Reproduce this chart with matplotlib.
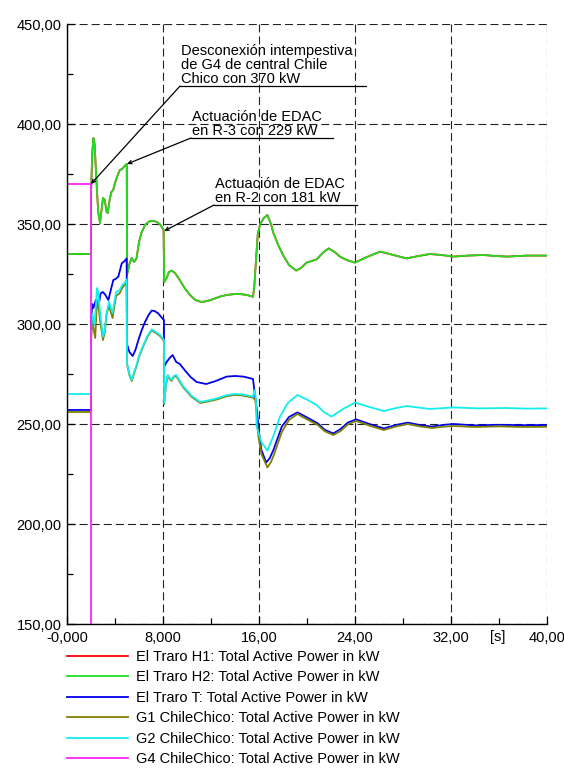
import matplotlib
matplotlib.use("Agg")
import matplotlib.pyplot as plt
from matplotlib.ticker import MultipleLocator, FixedLocator, FixedFormatter, FuncFormatter

plt.rcParams["font.family"] = ["Liberation Sans", "DejaVu Sans"]
plt.rcParams["lines.scale_dashes"] = False

# ---- simulation results: total active power (kW) versus time (s) ----
h2_t = [0.0, 2.0, 2.0, 2.1, 2.2, 2.3, 2.45, 2.6, 2.75, 2.9, 3.0, 3.15, 3.3, 3.4, 3.55,
        3.7, 3.85, 4.0, 4.2, 4.4, 4.6, 4.8, 4.98, 5.0, 5.2, 5.4, 5.6, 5.8, 6.0, 6.2,
        6.5, 6.9, 7.2, 7.5, 7.8, 8.05, 8.1, 8.3, 8.5, 8.72, 9.0, 9.4, 9.8, 10.25,
        10.7, 11.2, 11.7, 12.2, 12.8, 13.3, 14.0, 14.4, 15.0, 15.5, 15.6, 15.75,
        15.9, 16.1, 16.4, 16.7, 17.0, 17.2, 17.6, 18.0, 18.5, 19.1, 19.5, 19.97,
        20.4, 20.8, 21.3, 21.8, 22.3, 22.75, 23.3, 24.0, 25.0, 26.1, 27.2, 28.3,
        29.3, 30.25, 31.2, 32.2, 33.4, 34.7, 35.7, 36.7, 38.3, 40.0]
h2_p = [335, 335, 365, 385, 393, 390, 372, 356, 350.5, 358, 363, 362, 356, 355.5, 362,
        366, 367, 370.5, 374, 377, 377.5, 379, 380, 324.5, 330, 333, 331, 333, 341, 345.5,
        349.5, 351.5, 351.5, 351, 349.5, 347, 321, 323, 326, 326.7, 325.5, 322, 318, 314.5,
        312, 311, 311.5, 312.5, 313.8, 314.5, 315, 315, 314.5, 313.6, 318, 332,
        345, 350, 353, 354.5, 350, 345.5, 339.5, 334.5, 329.5, 326.7, 328, 330.7,
        331.5, 332.3, 335.5, 337.8, 336, 333.7, 332, 330.7, 333.5, 336.2, 334.5, 332.8,
        334, 335, 334.5, 333.7, 334.2, 334.5, 334, 333.7, 334.2, 334.2]

# both hydro units of El Traro share the same dispatch
h1_t = h2_t
h1_p = h2_p

t_t = [0.0, 2.0, 2.0, 2.1, 2.2, 2.4, 2.6, 2.8, 3.0, 3.2, 3.45, 3.65, 3.86, 4.05, 4.28,
       4.56, 4.8, 4.97, 5.0, 5.2, 5.47, 5.7, 5.95, 6.2, 6.5, 6.8, 7.06, 7.3, 7.6, 7.85,
       8.08, 8.1, 8.3, 8.55, 8.8, 9.1, 9.4, 9.8, 10.3, 10.8, 11.6, 12.4, 13.3, 14.0,
       14.7, 15.5, 15.65, 15.8, 16.0, 16.2, 16.6, 16.9, 17.2, 17.5, 17.9, 18.5, 19.2,
       20.0, 20.9, 21.5, 22.2, 22.8, 23.4, 24.1, 25.2, 26.4, 27.4, 28.4, 29.4, 30.4,
       31.3, 32.2, 34.0, 36.0, 38.0, 40.0]
t_p = [257, 257, 300, 310, 308, 312, 308, 315.3, 316, 314.5, 312, 317, 322, 322.5, 323.7,
       330.3, 331.5, 332.8, 290, 286, 284, 287, 292, 296.5, 301, 304.5, 306.7, 306.5, 305.3, 303.5,
       302, 278.7, 281, 283, 284.5, 281, 280, 277, 273.5, 271, 270, 271.5, 273.7, 274,
       273.7, 272.5, 265, 258, 246, 237, 230.7, 233, 237, 242, 248.7, 253.5, 255.8,
       253.3, 250.3, 247, 245.3, 247.5, 250.7, 252.3, 250, 247.8, 249.5, 250.7, 249.5, 248.7,
       249.5, 250, 249.3, 249.6, 249.4, 249.5]

g1_t = [0.0, 2.0, 2.0, 2.1, 2.2, 2.35, 2.5, 2.6, 2.75, 3.0, 3.15, 3.3, 3.5, 3.65, 3.8,
        3.95, 4.1, 4.4, 4.6, 4.8, 4.97, 5.0, 5.2, 5.4, 5.6, 5.8, 6.0, 6.36, 6.7, 7.06,
        7.4, 7.75, 8.08, 8.1, 8.25, 8.4, 8.55, 8.7, 8.9, 9.1, 9.4, 9.7, 10.4, 11.1,
        11.8, 12.5, 13.2, 13.9, 14.6, 15.25, 15.5, 15.7, 15.95, 16.2, 16.7, 17.0, 17.3,
        17.9, 18.5, 19.2, 20.0, 20.9, 21.5, 22.2, 22.8, 23.4, 24.1, 25.2, 26.4, 27.4,
        28.4, 29.4, 30.4, 31.3, 32.2, 34.0, 36.0, 38.0, 40.0]
g1_p = [256, 256, 290, 303, 298, 293, 312, 310, 302, 292, 296, 305, 309, 306, 303,
        309, 314, 315.5, 318, 319.5, 321, 280, 274.5, 271.5, 275.5, 279, 283.5, 289, 293.5, 296.8,
        295.5, 294, 291.5, 260, 269.5, 274, 272.5, 271.5, 273.5, 274, 271, 268.2, 263.5, 260.5,
        261.3, 262.3, 263.7, 264.5, 264.3, 263.5, 263.2, 262, 243.7, 235, 228.3, 231, 235.5,
        246, 252, 255, 252.3, 249.5, 246.3, 244.5, 246.5, 249.8, 251.5, 249.2, 247, 248.7,
        250, 248.8, 248, 248.6, 249, 248.5, 248.8, 248.5, 248.6]

g2_t = [0.0, 2.0, 2.0, 2.1, 2.2, 2.3, 2.5, 2.6, 2.75, 3.0, 3.15, 3.3, 3.5, 3.65, 3.8,
        3.95, 4.1, 4.4, 4.6, 4.8, 4.97, 5.0, 5.2, 5.4, 5.6, 5.8, 6.0, 6.36, 6.7, 7.06,
        7.4, 7.75, 8.08, 8.1, 8.25, 8.4, 8.55, 8.7, 8.9, 9.1, 9.4, 9.7, 10.4, 11.1,
        11.8, 12.5, 13.2, 13.9, 14.6, 15.25, 15.5, 15.65, 15.75, 15.8, 16.2, 16.7, 17.2,
        17.75, 18.4, 19.2, 19.9, 20.8, 21.4, 22.05, 23.0, 24.0, 25.2, 26.4, 27.3, 28.3,
        30.25, 32.2, 34.3, 36.5, 38.3, 40.0]
g2_p = [265, 265, 295, 305, 303, 300, 318, 316, 306, 293.7, 297, 305.5, 311, 308, 305.5,
        311, 316, 317, 319.5, 320.5, 322.3, 280.5, 275, 272, 276, 279.5, 284, 289.5, 294, 297.3,
        296, 294.5, 292, 260.5, 270, 274.5, 273, 272, 274, 274.5, 271.5, 268.7, 264, 261,
        261.8, 262.8, 264.2, 265, 264.8, 264, 263.7, 267, 262, 248.7, 241, 236.7, 244,
        253.7, 260.5, 264.5, 262.5, 259.5, 256, 253.7, 257.5, 260.7, 258.5, 256.5, 257.8, 259,
        257.5, 258.3, 257.8, 258, 257.7, 257.8]

g4_t = [0.0, 2.0, 2.0, 40.0]
g4_p = [370, 370, 0, 0]

labels = ["El Traro H1: Total Active Power in kW",
          "El Traro H2: Total Active Power in kW",
          "El Traro T: Total Active Power in kW",
          "G1 ChileChico: Total Active Power in kW",
          "G2 ChileChico: Total Active Power in kW",
          "G4 ChileChico: Total Active Power in kW"]
colors = ["#ff0000", "#22dd22", "#0000ee", "#808000", "#11eeee", "#ff22ff"]

x_ticks = [0, 8, 16, 24, 32, 40]
x_tick_labels = ["-0,000", "8,000", "16,00", "24,00", "32,00", "40,00"]

events = [
    ("Desconexión intempestiva\nde G4 de central Chile\nChico con 370 kW", 2.0, 370),
    ("Actuación de EDAC\nen R-3 con 229 kW", 5.0, 380),
    ("Actuación de EDAC\nen R-2 con 181 kW", 8.1, 346.5),
]
# label anchor (x, y at underline) and underline end, in data units
label_places = [(9.42, 419.0, 24.9), (10.33, 393.0, 22.2), (12.25, 359.5, 24.2)]

# ---- figure ----
fig = plt.figure(figsize=(5.64, 7.78), dpi=100)
ax = fig.add_axes([67 / 564, 1 - 624 / 778, 480 / 564, 600 / 778])

series = [(h1_t, h1_p), (h2_t, h2_p), (t_t, t_p), (g1_t, g1_p), (g2_t, g2_p), (g4_t, g4_p)]
handles = []
for (tt, pp), lab, col in zip(series, labels, colors):
    ln, = ax.plot(tt, pp, color=col, lw=1.3, label=lab, zorder=3)
    handles.append(ln)

ax.set_xlim(0, 40)
ax.set_ylim(150, 450)

ax.xaxis.set_major_locator(FixedLocator(x_ticks))
ax.xaxis.set_major_formatter(FixedFormatter(x_tick_labels))
ax.xaxis.set_minor_locator(MultipleLocator(4))
ax.yaxis.set_major_locator(MultipleLocator(50))
ax.yaxis.set_minor_locator(MultipleLocator(25))
ax.yaxis.set_major_formatter(FuncFormatter(lambda v, p: f"{v:.2f}".replace(".", ",")))

ax.tick_params(which="both", direction="in", labelsize=10.5, colors="black")
ax.tick_params(which="major", length=6, width=0.9)
ax.tick_params(which="minor", length=4, width=0.9)
ax.tick_params(axis="y", pad=4)
ax.tick_params(axis="x", pad=5)
for lab in ax.get_yticklabels():
    lab.set_verticalalignment("center_baseline")

ax.grid(True, which="major", color="#222222", lw=0.8, linestyle=(0, (5.8, 2.9)), zorder=1)
for s in ("top", "right"):
    ax.spines[s].set_visible(False)
for s in ("left", "bottom"):
    ax.spines[s].set_linewidth(1.0)
    ax.spines[s].set_color("black")
    ax.spines[s].set_zorder(4)

ax.text(35.9, -6 / 600, "[s]", transform=ax.get_xaxis_transform(), ha="center", va="top",
        fontsize=10.5)

# event annotations with underlined labels and leader lines
for (txt, ex, ey), (lx, ly, uend) in zip(events, label_places):
    ax.annotate("", xy=(ex, ey), xytext=(lx, ly),
                arrowprops=dict(arrowstyle="->,head_length=0.25,head_width=0.12",
                                color="black", lw=0.9, shrinkA=0, shrinkB=0),
                zorder=5)
    ax.plot([lx, uend], [ly, ly], color="black", lw=0.9, zorder=5)
    ax.text(lx + 0.05, ly + 0.1, txt, ha="left", va="bottom", fontsize=10.5,
            linespacing=1.0, zorder=5)

fig.legend(handles=handles, labels=labels, loc="upper left",
           bbox_to_anchor=(67 / 564, 1 - 650 / 778), frameon=False, fontsize=10.5,
           handlelength=4.15, handletextpad=0.55, labelspacing=0.44, borderpad=0,
           borderaxespad=0)

fig.savefig("out.png", dpi=100)
